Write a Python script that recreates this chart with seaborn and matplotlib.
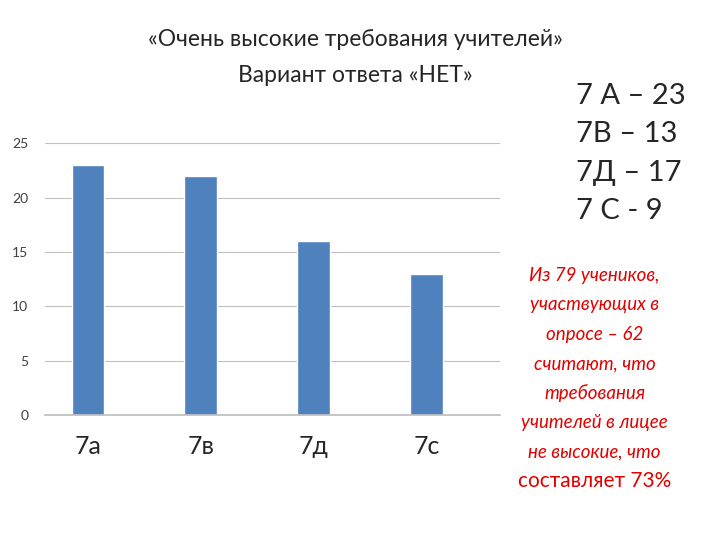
import matplotlib
matplotlib.use("Agg")
import matplotlib.pyplot as plt
import seaborn as sns
import pandas as pd

categories = ["7а", "7в", "7д", "7с"]
values = [23, 22, 16, 13]
yticks = [0, 5, 10, 15, 20, 25]
title_lines = ["«Очень высокие требования учителей»", "Вариант ответа «НЕТ»"]
side_lines = ["7 А – 23", "7В – 13", "7Д – 17", "7 С - 9"]
note_lines = ["Из 79 учеников,", "участвующих в", "опросе – 62", "считают, что",
              "требования", "учителей в лицее", "не высокие, что"]
note_last = "составляет 73%"

sns.set_theme(style="white")
plt.rcParams['font.family'] = ['Lato', 'DejaVu Sans']

fig = plt.figure(figsize=(7.2, 5.4), dpi=100)
ax = fig.add_axes([0.0625, 0.231, 0.632, 0.504])
df = pd.DataFrame({"cat": categories, "val": values})
sns.barplot(data=df, x="cat", y="val", color="#4F81BD", saturation=1, width=0.29, ax=ax)
ax.set_ylim(0, 25)
ax.set_xlim(-0.38, 3.65)
ax.set_yticks(yticks)
ax.yaxis.grid(True, color="#BFBFBF", linewidth=0.8)
ax.set_axisbelow(True)
for s in ["top", "right", "left"]:
    ax.spines[s].set_visible(False)
ax.spines["bottom"].set_color("#BFBFBF")
ax.tick_params(axis="y", labelsize=10, colors="#404040", length=0, pad=12)
ax.tick_params(axis="x", labelsize=18, length=0, pad=14)
ax.set_xlabel("")
ax.set_ylabel("")

fig.text(0.493, 0.926, title_lines[0], ha="center", va="center", fontsize=16.5)
fig.text(0.493, 0.861, title_lines[1], ha="center", va="center", fontsize=16.5)
for i, t in enumerate(side_lines):
    fig.text(0.800, 0.822 - i * 0.071, t, ha="left", va="center", fontsize=21)
for i, t in enumerate(note_lines):
    fig.text(0.826, 0.49 - i * 0.0545, t, ha="center", va="center", fontsize=13.5,
             color="#E00000", style="italic")
fig.text(0.826, 0.11, note_last, ha="center", va="center", fontsize=15, color="#E00000")

fig.savefig("out.png", dpi=100)
